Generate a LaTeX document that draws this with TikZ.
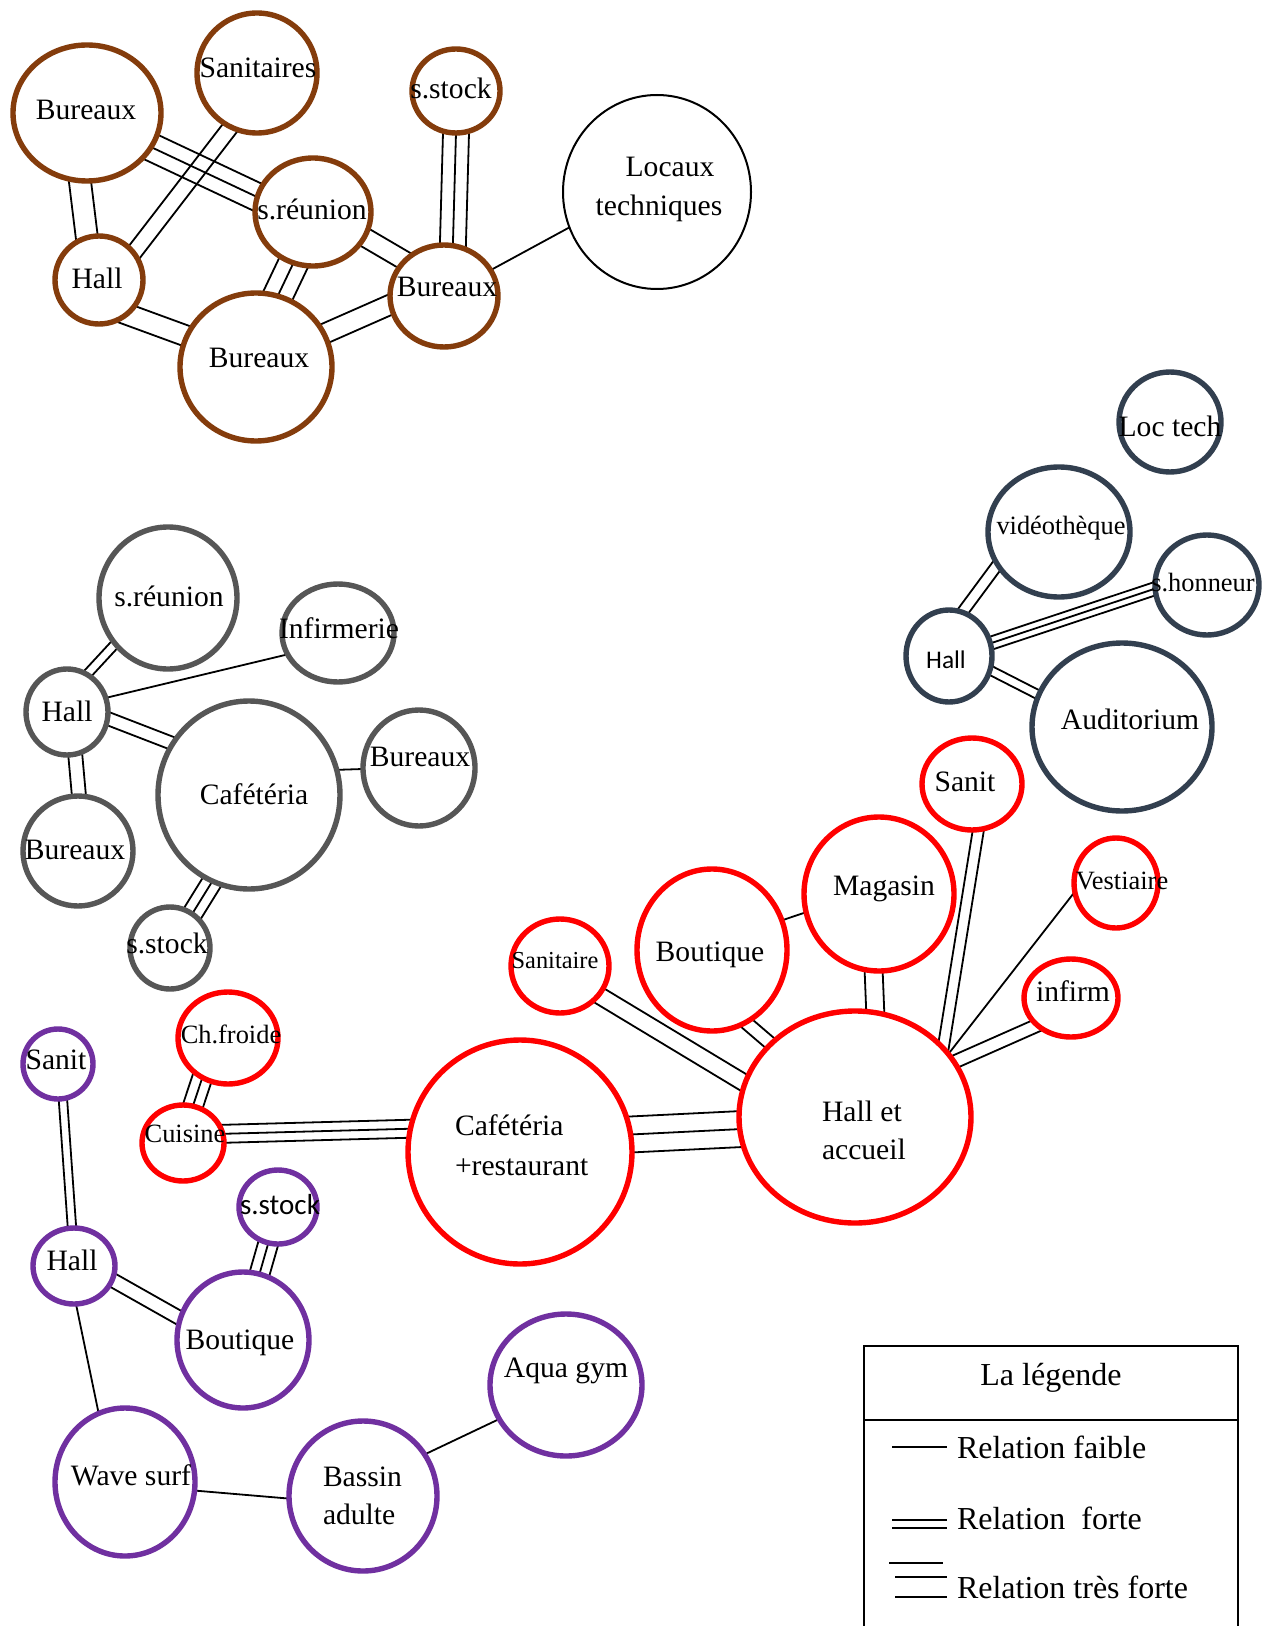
\documentclass[tikz,border=0pt]{standalone}
\usepackage{fontspec}
\setmainfont{Liberation Serif}
\newfontfamily\sansroom{Carlito}
\usetikzlibrary{shapes.geometric,calc,backgrounds}

\definecolor{brn}{HTML}{843C0C}
\definecolor{slate}{HTML}{323F4F}
\definecolor{gry}{HTML}{565656}
\definecolor{prp}{HTML}{7030A0}
\definecolor{rd}{HTML}{FF0000}

\tikzset{
  room/.style={ellipse, draw=#1, line width=2.7pt, fill=white, inner sep=0pt, outer sep=0pt},
  thinroom/.style={ellipse, draw=black, line width=1pt, fill=white, inner sep=0pt, outer sep=0pt},
  rel/.style={line width=0.9pt, shorten <=-5pt, shorten >=-5pt},
  txt/.style={inner sep=0pt, outer sep=0pt, font=\fontsize{14.8}{17}\selectfont, text height=9.8pt, text depth=0pt},
  txts/.style={txt, font=\fontsize{13.2}{15}\selectfont, text height=8.7pt},
  txtxs/.style={txt, font=\fontsize{12.2}{14}\selectfont, text height=8pt},
  txtsans/.style={txt, font=\sansroom\fontsize{14.5}{17}\selectfont, text height=9.3pt},
  txtsanss/.style={txt, font=\sansroom\fontsize{12.7}{15}\selectfont, text height=8.2pt},
  leg/.style={inner sep=0pt, outer sep=0pt, font=\fontsize{16}{18}\selectfont, text height=10.6pt, text depth=0pt},
  legline/.style={line width=0.9pt},
}

% relation faible / forte / tres forte
\newcommand\relweak[2]{\draw[rel] (#1) -- (#2);}
\newcommand\relstrong[3]{%
  \draw[rel] ($(#1)!#3!90:(#2)$) -- ($(#2)!#3!-90:(#1)$);
  \draw[rel] ($(#1)!#3!-90:(#2)$) -- ($(#2)!#3!90:(#1)$);}
\newcommand\relvstrong[3]{\draw[rel] (#1) -- (#2); \relstrong{#1}{#2}{#3}}

\begin{document}
\begin{tikzpicture}[x=0.5pt, y=-0.5pt]
\useasboundingbox (0,0) rectangle (1266,1626);

% ---------- brown group ----------
\node[room=brn, minimum width=74pt, minimum height=68pt] (bB1) at (87,113) {};
\node[room=brn, minimum width=60pt, minimum height=60pt] (bSan) at (257,73) {};
\node[room=brn, minimum width=44pt, minimum height=42pt] (bStock) at (456,91) {};
\node[room=brn, minimum width=58pt, minimum height=54pt] (bReu) at (313,212) {};
\node[room=brn, minimum width=44pt, minimum height=44pt] (bHall) at (99,280) {};
\node[room=brn, minimum width=76pt, minimum height=74pt] (bB2) at (256,367) {};
\node[room=brn, minimum width=54pt, minimum height=51pt] (bB3) at (444,296) {};
\node[thinroom, minimum width=94pt, minimum height=97pt] (bLoc) at (657,192) {};

% ---------- slate group ----------
\node[room=slate, minimum width=51pt, minimum height=50pt] (dLoc) at (1170,422) {};
\node[room=slate, minimum width=71pt, minimum height=65pt] (dVid) at (1059,532) {};
\node[room=slate, minimum width=52pt, minimum height=50pt] (dHon) at (1207,585) {};
\node[room=slate, minimum width=43pt, minimum height=46pt] (dHall) at (949,656) {};
\node[room=slate, minimum width=90pt, minimum height=84pt] (dAud) at (1122,727) {};

% ---------- grey group ----------
\node[room=gry, minimum width=69pt, minimum height=71pt] (gReu) at (168,598) {};
\node[room=gry, minimum width=56pt, minimum height=49pt] (gInf) at (338,633) {};
\node[room=gry, minimum width=41pt, minimum height=43pt] (gHall) at (67,712) {};
\node[room=gry, minimum width=91pt, minimum height=94pt] (gCaf) at (249,795) {};
\node[room=gry, minimum width=56pt, minimum height=58pt] (gB1) at (419,768) {};
\node[room=gry, minimum width=55pt, minimum height=55pt] (gB2) at (78,851) {};
\node[room=gry, minimum width=40pt, minimum height=41pt] (gStock) at (170,948) {};

% ---------- red group ----------
\node[room=rd, minimum width=49pt, minimum height=47pt] (rSan) at (560,966) {};
\node[room=rd, minimum width=75pt, minimum height=81pt] (rBou) at (712,950) {};
\node[room=rd, minimum width=75pt, minimum height=77pt] (rMag) at (879,894) {};
\node[room=rd, minimum width=116pt, minimum height=106pt] (rHall) at (855,1117) {};
\node[room=rd, minimum width=112pt, minimum height=112pt] (rCaf) at (520,1152) {};
\node[room=rd, minimum width=50pt, minimum height=46pt] (rChf) at (228,1038) {};
\node[room=rd, minimum width=41pt, minimum height=38pt] (rCui) at (183,1143) {};
\node[room=rd, minimum width=50pt, minimum height=46pt] (rSnt) at (972,784) {};
\node[room=rd, minimum width=42pt, minimum height=45pt] (rVes) at (1116,883) {};
\node[room=rd, minimum width=47pt, minimum height=39pt] (rInf) at (1071,998) {};

% ---------- purple group ----------
\node[room=prp, minimum width=35pt, minimum height=35pt] (pSan) at (58,1064) {};
\node[room=prp, minimum width=41pt, minimum height=38pt] (pHall) at (74,1266) {};
\node[room=prp, minimum width=39pt, minimum height=37pt] (pStock) at (278,1207) {};
\node[room=prp, minimum width=66pt, minimum height=68pt] (pBou) at (243,1340) {};
\node[room=prp, minimum width=76pt, minimum height=71pt] (pAqua) at (566,1385) {};
\node[room=prp, minimum width=70pt, minimum height=74pt] (pWave) at (125,1482) {};
\node[room=prp, minimum width=74pt, minimum height=75pt] (pBas) at (363,1496) {};

% ---------- labels ----------
\node[txt] (bB1t) at (86,110) {Bureaux};
\node[txt] (bSant) at (258,68) {Sanitaires};
\node[txt] (bStockt) at (451,89) {s.stock};
\node[txt] (bReut) at (312,210) {s.réunion};
\node[txt] (bHallt) at (97,279) {Hall};
\node[txt] (bB2t) at (259,358) {Bureaux};
\node[txt] (bB3t) at (447,287) {Bureaux};
\node[txt] (bLoct1) at (670,167) {Locaux};
\node[txt] (bLoct2) at (659,206) {techniques};

\node[txt] (dLoct) at (1170,427) {Loc tech};
\node[txts] (dVidt) at (1061,526) {vidéothèque};
\node[txts] (dHont) at (1203,583) {s.honneur};
\node[txtsanss] (dHallt) at (946,660) {Hall};
\node[txt] (dAudt) at (1130,720) {Auditorium};

\node[txt] (gReut) at (169,597) {s.réunion};
\node[txt] (gInft) at (339,629) {Infirmerie};
\node[txt] (gHallt) at (67,712) {Hall};
\node[txt] (gCaft) at (254,795) {Cafétéria};
\node[txt] (gB1t) at (420,757) {Bureaux};
\node[txt] (gB2t) at (75,850) {Bureaux};
\node[txt] (gStockt) at (167,944) {s.stock};

\node[txtxs] (rSant) at (555,960) {Sanitaire};
\node[txt] (rBout) at (710,952) {Boutique};
\node[txt] (rMagt) at (884,886) {Magasin};
\node[txt, anchor=west] (rHallt1) at (822,1112) {Hall et};
\node[txt, anchor=west] (rHallt2) at (822,1150) {accueil};
\node[txt, anchor=west] (rCaft1) at (455,1126) {Cafétéria};
\node[txt, anchor=west] (rCaft2) at (455,1166) {+restaurant};
\node[txts] (rChft) at (231,1035) {Ch.froide};
\node[txts] (rCuit) at (185,1134) {Cuisine};
\node[txt] (rSntt) at (965,782) {Sanit};
\node[txts] (rVest) at (1122,881) {Vestiaire};
\node[txt] (rInft) at (1073,992) {infirm};

\node[txt] (pSant) at (56,1060) {Sanit};
\node[txt] (pHallt) at (72,1261) {Hall};
\node[txtsans] (pStockt) at (280,1205) {s.stock};
\node[txt] (pBout) at (240,1340) {Boutique};
\node[txt] (pAquat) at (566,1368) {Aqua gym};
\node[txt] (pWavet) at (131,1476) {Wave surf};
\node[txt, anchor=west] (pBast1) at (323,1477) {Bassin};
\node[txt, anchor=west] (pBast2) at (323,1515) {adulte};

% ---------- relations (beneath the rooms) ----------
\begin{scope}[on background layer]
\fill[white] (0,0) rectangle (1266,1626);

\relvstrong{bB1.332.7}{bReu.165.5}{7pt}
\relstrong{bSan.244.7}{bHall.38.7}{4pt}
\relstrong{bB1.264.2}{bHall.106.3}{5.5pt}
\relstrong{bHall.309.5}{bB2.156.3}{5.25pt}
\relvstrong{bReu.249}{bB2.73.4}{7.5pt}
\relstrong{bReu.334.7}{bB3.138}{4.75pt}
\relstrong{bB2.26.2}{bB3.189.6}{5pt}
\relvstrong{bStock.270}{bB3.80.2}{6.5pt}
\relweak{bB3.29.7}{bLoc.202.3}

\relstrong{dHall.73.9}{dVid.208}{2.75pt}
\relvstrong{dHall.17.3}{dHon.184.3}{3.25pt}
\relstrong{dHall.341.2}{dAud.159.3}{2.25pt}

\relstrong{gHall.62.2}{gReu.221}{2.25pt}
\relweak{gHall.20.6}{gInf.203.3}
\relstrong{gHall.351.7}{gCaf.146.3}{3.25pt}
\relstrong{gHall.281}{gB2.89}{3.5pt}
\relweak{gCaf.16.5}{gB1.181}
\relvstrong{gCaf.247}{gStock.57.8}{5pt}

\relstrong{rSan.323.1}{rHall.163.4}{4.25pt}
\relstrong{rBou.295.6}{rHall.139.7}{3.25pt}
\relweak{rBou.23.9}{rMag.194.4}
\relstrong{rMag.266.3}{rHall.79.6}{4.5pt}
\relvstrong{rCaf.9.1}{rHall.186.8}{9pt}
\relvstrong{rCui.13.1}{rCaf.168.9}{4.5pt}
\relvstrong{rChf.237.7}{rCui.75.6}{5pt}
\relstrong{rSnt.278.7}{rHall.38.8}{2.75pt}
\relweak{rVes.192.4}{rHall.34.2}
\relstrong{rInf.219.3}{rHall.29.5}{3.25pt}

\relstrong{pSan.278}{pHall.93}{2.1pt}
\relstrong{pHall.340.5}{pBou.161.3}{3.5pt}
\relvstrong{pStock.255.4}{pBou.76.2}{5pt}
\relweak{pHall.273.9}{pWave.111.6}
\relweak{pWave.353.9}{pBas.182.5}
\relweak{pBas.34.1}{pAqua.207.9}
\end{scope}

% ---------- legend ----------
\draw[line width=0.9pt] (864,1626) -- (864,1346) -- (1238,1346) -- (1238,1626);
\draw[line width=0.9pt] (864,1420) -- (1238,1420);
\node[leg] (legTitle) at (1051,1375) {La légende};
\draw[legline] (892,1447) -- (947,1447);
\draw[legline] (892,1520) -- (947,1520);
\draw[legline] (892,1528) -- (947,1528);
\draw[legline] (889,1563) -- (943,1563);
\draw[legline] (895,1577) -- (947,1577);
\draw[legline] (895,1597) -- (947,1597);
\node[leg, anchor=west] (legWeak) at (957,1448) {Relation faible};
\node[leg, anchor=west] (legStrong) at (957,1519) {Relation\ \ forte};
\node[leg, anchor=west] (legVStrong) at (957,1588) {Relation très forte};
\end{tikzpicture}
\end{document}
